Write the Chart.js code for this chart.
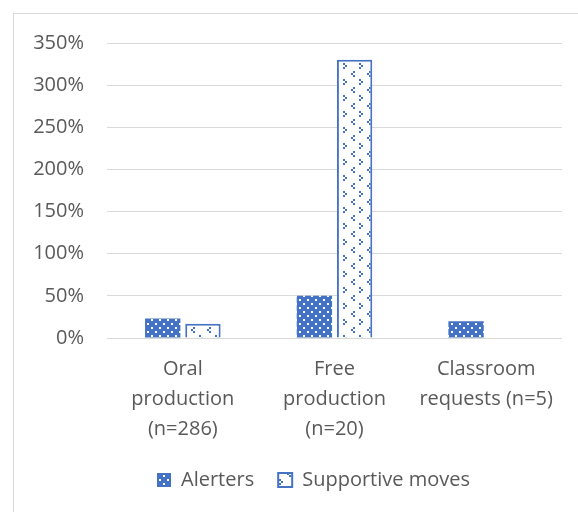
<!DOCTYPE html>
<html>
<head>
<meta charset="utf-8">
<script src="https://cdn.jsdelivr.net/npm/chart.js@4/dist/chart.umd.min.js"></script>
<style>
  html, body { margin: 0; padding: 0; background: #fff; overflow: hidden; }
  body { width: 578px; height: 512px; position: relative; }
  #frame {
    position: absolute; left: 13px; top: 13px;
    width: 620px; height: 520px;
    border: 1px solid #d9d9d9; box-sizing: border-box;
  }
  #myChart { position: absolute; left: 0; top: 0; }
</style>
</head>
<body>
<div id="frame">
  <canvas id="myChart" width="600" height="498"></canvas>
</div>
<script>
const categorias = [
  ["Oral", "production", "(n=286)"],
  ["Free", "production", "(n=20)"],
  ["Classroom", "requests (n=5)"],
];
const alerters = [23, 50, 20];
const supportive = [17, 330, 0];
const yTicks = [0, 50, 100, 150, 200, 250, 300, 350];

const azul = "#4472C4";
const gris = "#595959";

// trama de puntos blancos sobre azul
function tramaAlerters() {
  const c = document.createElement("canvas");
  c.width = 8;
  c.height = 8;
  const ctx = c.getContext("2d");
  ctx.fillStyle = azul;
  ctx.fillRect(0, 0, 8, 8);
  ctx.fillStyle = "#ffffff";
  ctx.fillRect(1, 1, 2, 2);
  ctx.fillRect(5, 5, 2, 2);
  return ctx.createPattern(c, "repeat");
}

// puntos azules sueltos sobre blanco
function tramaSupportive() {
  const c = document.createElement("canvas");
  c.width = 16;
  c.height = 16;
  const ctx = c.getContext("2d");
  ctx.fillStyle = "#ffffff";
  ctx.fillRect(0, 0, 16, 16);
  ctx.fillStyle = azul;
  // ">"
  ctx.fillRect(9, 1, 2, 2);
  ctx.fillRect(11, 3, 2, 2);
  ctx.fillRect(9, 5, 2, 2);
  // "<"
  ctx.fillRect(3, 9, 2, 2);
  ctx.fillRect(1, 11, 2, 2);
  ctx.fillRect(3, 13, 2, 2);
  return ctx.createPattern(c, "repeat");
}

// la leyenda va centrada en todo el marco, no en el área de datos
const moverLeyenda = {
  id: "moverLeyenda",
  afterLayout: (chart) => {
    chart.legend.left += 17;
    chart.legend.right += 17;
    chart.legend.top -= 6;
    chart.legend.bottom -= 6;
  },
};

const fuente = "'Open Sans', sans-serif";

const myChart = new Chart("myChart", {
  type: "bar",
  data: {
    labels: categorias,
    datasets: [
      {
        label: "Alerters",
        data: alerters,
        backgroundColor: tramaAlerters(),
        borderColor: azul,
        borderWidth: 0,
        categoryPercentage: 0.53,
        barPercentage: 0.88,
      },
      {
        label: "Supportive moves",
        data: supportive,
        backgroundColor: tramaSupportive(),
        borderColor: azul,
        borderWidth: 2,
        borderSkipped: "bottom",
        categoryPercentage: 0.53,
        barPercentage: 0.88,
      },
    ],
  },
  options: {
    responsive: false,
    animation: false,
    layout: {
      padding: { left: 17, right: 52, top: 29, bottom: 6 },
    },
    plugins: {
      tooltip: { enabled: false },
      legend: {
        position: "bottom",
        labels: {
          color: gris,
          font: { family: fuente, size: 20 },
          boxWidth: 14,
          boxHeight: 14,
          padding: 24,
        },
      },
    },
    scales: {
      x: {
        grid: { display: false },
        border: { display: false },
        ticks: {
          color: gris,
          font: { family: fuente, size: 20, lineHeight: 1.5 },
          maxRotation: 0,
          padding: 8,
        },
      },
      y: {
        min: 0,
        max: 350,
        afterBuildTicks: (axis) => {
          axis.ticks = yTicks.map((v) => ({ value: v }));
        },
        afterFit: (axis) => {
          axis.width = 76;
          axis.paddingTop = 0;
          axis.paddingBottom = 0;
        },
        grid: { color: "#d9d9d9", lineWidth: 1, drawTicks: false },
        border: { display: false },
        ticks: {
          color: gris,
          font: { family: fuente, size: 20 },
          padding: 23,
          callback: (v) => v + "%",
        },
      },
    },
  },
  plugins: [moverLeyenda],
});
</script>
</body>
</html>
